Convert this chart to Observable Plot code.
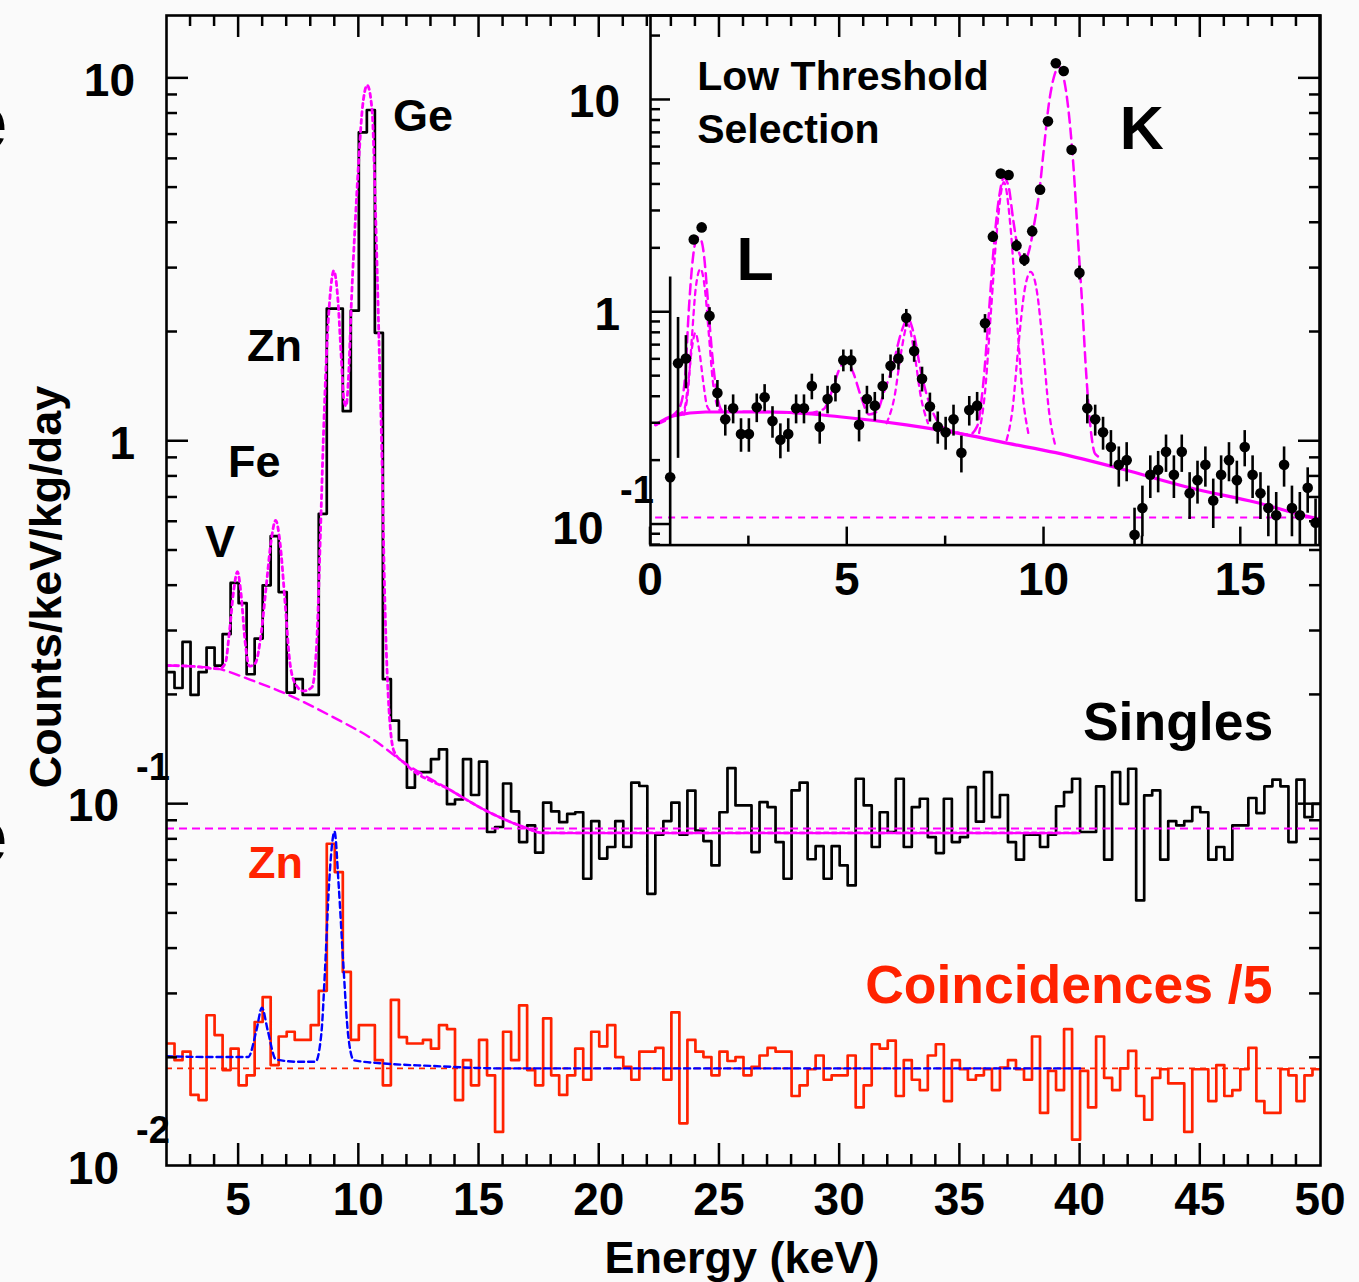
<!DOCTYPE html>
<html>
<head>
<meta charset="utf-8">
<script src="https://cdn.jsdelivr.net/npm/d3@7"></script>
<script src="https://cdn.jsdelivr.net/npm/@observablehq/plot@0.6"></script>
<style>
  html, body { margin: 0; padding: 0; background: #fafafa; }
  #wrap { position: relative; width: 1359px; height: 1282px; overflow: hidden; background: #fafafa; }
  #wrap svg { position: absolute; }
</style>
</head>
<body>
<div id="wrap"></div>
<script>
const FONT = '"Liberation Sans", Arial, Helvetica, sans-serif';

// ---------------- main spectrum (bins of 1/3 keV from 2 to 50 keV) ----------------
const binStart = 2, binWidth = 1 / 3, binEnd = 50;

const singles = [
0.231,0.209,0.28,0.20,0.231,0.27,0.241,0.294,0.407,0.358,
0.228,0.286,0.401,0.548,0.384,0.203,0.221,0.20,0.20,0.631,
2.32,2.32,1.21,2.29,7.10,8.18,1.99,0.221,0.170,0.150,
0.111,0.1225,0.1225,0.133,0.1415,0.100,0.103,0.133,0.106,0.131,
0.0838,0.0865,0.114,0.0955,0.0786,0.0874,0.0735,0.101,0.0955,0.0892,
0.094,0.095,0.0623,0.0898,0.0708,0.0762,0.0898,0.0762,0.1146,0.1122,
0.0566,0.0824,0.0898,0.101,0.0824,0.109,0.0846,0.0791,0.0678,0.095,
0.1257,0.0992,0.0992,0.0738,0.1013,0.0982,0.0786,0.0623,0.1091,0.1146,
0.0705,0.0766,0.0623,0.0766,0.0678,0.0597,0.1175,0.0992,0.0762,0.095,
0.0838,0.1175,0.0762,0.0982,0.1035,0.0811,0.0733,0.1035,0.0786,0.0811,
0.1114,0.0895,0.1225,0.0921,0.106,0.0786,0.0703,0.0824,0.0824,0.0762,
0.0824,0.0987,0.108,0.1175,0.0838,0.0838,0.112,0.0703,0.1225,0.1002,
0.1252,0.0543,0.1057,0.1091,0.0703,0.0898,0.0874,0.0898,0.0982,0.095,
0.0703,0.0762,0.0703,0.0874,0.0874,0.104,0.0945,0.112,0.1168,0.112,
0.0786,0.1168,0.0921,0.1002];

const coincidences = [
0.0219,0.0197,0.0208,0.0158,0.0153,0.0262,0.0231,0.0185,0.0212,0.0168,
0.0179,0.0251,0.0294,0.0191,0.0229,0.0236,0.0224,0.0224,0.0246,0.0306,
0.0778,0.065,0.0345,0.0224,0.0246,0.0246,0.0197,0.0168,0.0289,0.0228,
0.0219,0.0219,0.0224,0.0212,0.0246,0.024,0.0153,0.0197,0.0168,0.0224,
0.0179,0.0125,0.0236,0.0197,0.0279,0.0185,0.0168,0.0257,0.0179,0.0158,
0.0179,0.0212,0.0174,0.0236,0.0215,0.0246,0.0201,0.0189,0.0174,0.0208,
0.0208,0.0213,0.0174,0.0267,0.0132,0.0224,0.0208,0.0201,0.0179,0.0208,
0.0196,0.0201,0.0179,0.0189,0.0203,0.0213,0.0208,0.0208,0.0157,0.0168,
0.0186,0.0203,0.0174,0.0179,0.0179,0.0203,0.0146,0.0168,0.0218,0.0212,
0.0223,0.0157,0.0197,0.0174,0.0163,0.0203,0.0218,0.0152,0.0197,0.0186,
0.0174,0.0179,0.0186,0.0163,0.0188,0.0197,0.0186,0.0174,0.0229,0.0141,
0.0184,0.0163,0.0240,0.0119,0.0184,0.0146,0.0229,0.0176,0.0163,0.0187,
0.0209,0.0157,0.0135,0.0176,0.0186,0.0170,0.0170,0.0125,0.0186,0.0186,
0.0152,0.0191,0.0157,0.0163,0.0186,0.0213,0.0152,0.0141,0.0141,0.0186,
0.0179,0.0152,0.0179,0.0186];

// fit curves: [energy keV, value]
const singlesFit = [
[2.0,0.241],[3.0,0.240],[4.2,0.236],[4.45,0.245],[4.62,0.30],[4.8,0.39],[4.95,0.437],[5.1,0.38],
[5.27,0.28],[5.45,0.24],[5.7,0.245],[5.95,0.30],[6.15,0.40],[6.35,0.53],[6.54,0.605],[6.73,0.52],
[6.93,0.36],[7.12,0.25],[7.35,0.215],[7.7,0.205],[8.05,0.21],[8.25,0.28],[8.4,0.55],[8.52,1.0],
[8.65,1.7],[8.8,2.5],[8.96,2.95],[9.12,2.5],[9.27,1.7],[9.38,1.3],[9.47,1.25],[9.57,1.5],[9.7,2.5],
[9.85,4.0],[10.0,6.0],[10.15,8.3],[10.35,9.57],[10.55,8.18],[10.69,4.39],[10.83,1.99],[10.97,0.85],
[11.06,0.42],[11.22,0.2],[11.46,0.14],[11.94,0.129],[13.84,0.109],[15.27,0.0961],[16.86,0.0865],
[17.66,0.0833],[40,0.0833]];
const singlesBackground = [
[2.0,0.241],[3.0,0.240],[4.15,0.236],[5.5,0.22],[7.0,0.201],[8.91,0.174],[10.66,0.1497],[11.94,0.1294],
[13.84,0.109],[15.27,0.0961],[16.86,0.0865],[17.66,0.0833],[20,0.0832],[40,0.0832]];
const singlesFlat = [0.0857];
const coincFit = [
[2.0,0.0202],[4.0,0.0201],[5.4,0.0201],[5.74,0.0238],[5.97,0.0275],[6.21,0.0238],[6.55,0.0198],
[7.5,0.0195],[8.2,0.0195],[8.44,0.0233],[8.6,0.0357],[8.76,0.060],[8.99,0.084],[9.16,0.060],
[9.36,0.0357],[9.55,0.0233],[9.79,0.0197],[11,0.0193],[13,0.019],[16,0.0187],[40,0.0187]];
const coincFlat = [0.0187];

// ---------------- inset: low threshold selection (points every 0.2 keV from 0.5 keV) ----------------
const insetStart = 0.5, insetStep = 0.2;
const insetValues = [
0.167,0.575,0.606,2.2,2.51,0.961,0.417,0.313,0.353,0.267,
0.267,0.357,0.398,0.307,0.251,0.267,0.353,0.353,0.449,0.289,
0.390,0.440,0.594,0.594,0.295,0.39,0.363,0.449,0.559,0.606,
0.941,0.656,0.486,0.36,0.289,0.272,0.313,0.218,0.346,0.363,
0.887,2.27,4.5,4.43,2.06,1.765,2.41,3.78,7.93,14.9,
13.7,5.83,1.535,0.353,0.313,0.272,0.232,0.191,0.201,0.0894,
0.1197,0.1716,0.181,0.22,0.1716,0.22,0.1405,0.1618,0.191,0.1297,
0.1716,0.201,0.1618,0.232,0.1716,0.1405,0.1197,0.1105,0.191,0.1197,
0.1105,0.149,0.102];
const insetErrors = [
1.3,0.37,0.17,0.1,0.1,0.09,0.06,0.052,0.055,0.048,
0.048,0.055,0.058,0.052,0.047,0.048,0.055,0.055,0.062,0.05,
0.058,0.062,0.07,0.07,0.05,0.058,0.056,0.062,0.07,0.072,
0.09,0.075,0.065,0.056,0.05,0.048,0.052,0.043,0.055,0.056,
0.088,0.14,0.2,0.2,0.13,0.12,0.14,0.18,0.26,0.36,
0.34,0.22,0.115,0.055,0.052,0.048,0.045,0.041,0.042,0.03,
0.032,0.039,0.04,0.044,0.039,0.044,0.035,0.037,0.041,0.034,
0.039,0.042,0.037,0.045,0.039,0.035,0.032,0.031,0.041,0.032,
0.031,0.036,0.03];
const insetBackground = [
[0.13,0.295],[0.6,0.326],[1.4,0.339],[3.1,0.339],[4.8,0.322],[6.5,0.295],[8.2,0.261],[8.9,0.245],
[10.3,0.218],[12.0,0.182],[13.7,0.149],[15.4,0.127],[16.8,0.108],[17,0.106]];
const insetFlat = [0.108];
const insetTotalFit = [
[0.13,0.295],[0.5,0.32],[0.75,0.36],[0.88,0.5],[0.97,1.0],[1.05,1.6],[1.12,2.05],[1.2,2.25],[1.28,2.2],
[1.36,1.85],[1.44,1.25],[1.52,0.8],[1.6,0.55],[1.7,0.4],[1.82,0.345],[2.0,0.34],[3.0,0.339],[4.0,0.335],
[4.4,0.35],[4.6,0.42],[4.8,0.54],[4.97,0.59],[5.15,0.52],[5.35,0.4],[5.55,0.33],[5.75,0.34],[5.95,0.43],
[6.15,0.55],[6.35,0.78],[6.54,0.93],[6.7,0.78],[6.85,0.55],[7.0,0.42],[7.2,0.33],[7.4,0.29],[7.7,0.275],
[8.1,0.265],[8.3,0.29],[8.45,0.45],[8.6,1.0],[8.72,2.0],[8.85,3.4],[8.98,4.3],[9.1,3.9],[9.22,2.7],
[9.35,1.95],[9.5,1.75],[9.62,1.95],[9.75,2.6],[9.88,3.7],[10.0,6.0],[10.12,9.5],[10.25,12.8],[10.38,14.3],
[10.5,12.7],[10.62,9.0],[10.75,4.8],[10.87,2.1],[10.97,1.09],[11.07,0.52],[11.17,0.3],[11.3,0.215],[11.5,0.205]];
const insetComponents = [
  [[0.7,0.33],[0.85,0.345],[0.95,0.45],[1.04,0.65],[1.14,0.80],[1.24,0.66],[1.34,0.47],[1.44,0.36],[1.55,0.34]],
  [[0.85,0.33],[0.95,0.42],[1.05,0.75],[1.15,1.3],[1.27,1.6],[1.38,1.3],[1.48,0.8],[1.58,0.48],[1.7,0.36],[1.8,0.34]],
  [[6.0,0.30],[6.2,0.40],[6.37,0.65],[6.54,0.88],[6.7,0.65],[6.87,0.40],[7.05,0.30]],
  [[8.35,0.27],[8.5,0.42],[8.65,1.0],[8.8,2.4],[8.98,4.1],[9.15,2.5],[9.3,1.0],[9.45,0.42],[9.6,0.27]],
  [[9.05,0.25],[9.2,0.35],[9.35,0.7],[9.5,1.25],[9.66,1.55],[9.82,1.25],[9.97,0.7],[10.12,0.35],[10.3,0.23]]
];

// ---------------- tables for the library ----------------
const histTable = (vals) => {
  const t = vals.map((v, i) => ({e: binStart + i * binWidth, v}));
  t.push({e: binEnd, v: vals[vals.length - 1]});
  return t;
};
const singlesTable = histTable(singles);
const coincTable = histTable(coincidences);
const insetTable = insetValues.map((v, i) => ({e: insetStart + i * insetStep, v, s: insetErrors[i]}));

const MAGENTA = "#ff00ff", RED = "#ff2200", BLUE = "#0000ff";
const px = d => d[0], py = d => d[1];

const wrap = document.getElementById("wrap");

// ---------------- main plot ----------------
const main = Plot.plot({
  width: 1359, height: 1282,
  marginLeft: 166, marginRight: 39, marginTop: 15, marginBottom: 117,
  style: {background: "transparent"},
  x: {type: "linear", domain: [2, 50], axis: null},
  y: {type: "log", domain: [0.0101, 14.9], axis: null},
  marks: [
    Plot.line(singlesTable, {x: "e", y: "v", curve: "step-after", stroke: "black", strokeWidth: 2.7, clip: true}),
    Plot.line(coincTable, {x: "e", y: "v", curve: "step-after", stroke: RED, strokeWidth: 2.7, clip: true}),
    Plot.ruleY(singlesFlat, {y: d => d, x1: 2, x2: 50, stroke: MAGENTA, strokeWidth: 2.2, strokeDasharray: "8,5"}),
    Plot.line(singlesBackground, {x: px, y: py, curve: "monotone-x", stroke: MAGENTA, strokeWidth: 2.4, strokeDasharray: "10,6", clip: true}),
    Plot.line(singlesFit, {x: px, y: py, curve: "monotone-x", stroke: MAGENTA, strokeWidth: 2.8, strokeDasharray: "4,4", clip: true}),
    Plot.ruleY(coincFlat, {y: d => d, x1: 2, x2: 50, stroke: RED, strokeWidth: 1.6, strokeDasharray: "6,5"}),
    Plot.line(coincFit, {x: px, y: py, curve: "monotone-x", stroke: BLUE, strokeWidth: 2.4, strokeDasharray: "6,4", clip: true}),
    Plot.frame({stroke: "black", strokeWidth: 2.6})
  ]
});
main.style.left = "0px"; main.style.top = "0px";
wrap.appendChild(main);

// ---------------- inset plot ----------------
const inset = Plot.plot({
  width: 819, height: 610,
  marginLeft: 110, marginRight: 40, marginTop: 15, marginBottom: 65.4,
  style: {background: "transparent"},
  x: {type: "linear", domain: [0, 17], axis: null},
  y: {type: "log", domain: [0.08, 25], axis: null},
  marks: [
    Plot.ruleY(insetFlat, {y: d => d, x1: 0.13, x2: 17, stroke: MAGENTA, strokeWidth: 2, strokeDasharray: "7,6"}),
    Plot.line(insetBackground, {x: px, y: py, curve: "monotone-x", stroke: MAGENTA, strokeWidth: 3.2, clip: true}),
    ...insetComponents.map(c => Plot.line(c, {x: px, y: py, curve: "monotone-x", stroke: MAGENTA, strokeWidth: 2.3, strokeDasharray: "5,5", clip: true})),
    Plot.line(insetTotalFit, {x: px, y: py, curve: "monotone-x", stroke: MAGENTA, strokeWidth: 2.5, strokeDasharray: "10,6", clip: true}),
    Plot.ruleX(insetTable, {x: "e", y1: d => Math.max(d.v - d.s, 0.01), y2: d => d.v + d.s, stroke: "black", strokeWidth: 2.6, clip: true}),
    Plot.dot(insetTable, {x: "e", y: "v", r: 5.3, fill: "black", stroke: "none", clip: true}),
    Plot.frame({stroke: "black", strokeWidth: 2.6})
  ]
});
inset.style.left = "540px"; inset.style.top = "0px";
wrap.appendChild(inset);

// ---------------- helpers for ROOT-style ticks and labels ----------------
function textAt(svg, x, y, txt, {anchor = "start", size = 46, fill = "black"} = {}) {
  svg.append("text").attr("x", x).attr("y", y).attr("text-anchor", anchor)
    .attr("font-family", FONT).attr("font-weight", "bold").attr("font-size", size)
    .attr("fill", fill).text(txt);
}
function logTicks(lo, hi) {
  const out = [];
  for (let p = -3; p <= 3; p++) for (let k = 1; k <= 9; k++) {
    const v = k * Math.pow(10, p);
    if (v >= lo * 0.999 && v <= hi * 1.001) out.push({v, major: k === 1});
  }
  return out;
}

// main ticks
{
  const sx = main.scale("x"), sy = main.scale("y");
  const svg = d3.select(main);
  const [xl, xr] = sx.range, [yb, yt] = sy.range;
  const g = svg.append("g").attr("stroke", "black").attr("stroke-width", 2.5);
  for (let v = 3; v < 50; v++) {
    const len = v % 5 === 0 ? 22 : 11, X = sx.apply(v);
    g.append("line").attr("x1", X).attr("x2", X).attr("y1", yb).attr("y2", yb - len);
    g.append("line").attr("x1", X).attr("x2", X).attr("y1", yt).attr("y2", yt + len);
  }
  for (const t of logTicks(0.0101, 14.9)) {
    const len = t.major ? 22 : 11, Y = sy.apply(t.v);
    g.append("line").attr("x1", xl).attr("x2", xl + len).attr("y1", Y).attr("y2", Y);
    g.append("line").attr("x1", xr).attr("x2", xr - len).attr("y1", Y).attr("y2", Y);
  }
  for (let v = 5; v <= 50; v += 5) textAt(svg, sx.apply(v), 1215, String(v), {anchor: "middle"});
  const yl = [{v: 10, b: "10"}, {v: 1, b: "1"}, {v: 0.1, b: "10", e: "-1"}, {v: 0.01, b: "10", e: "-2"}];
  for (const l of yl) {
    const Y = sy.apply(l.v);
    if (!l.e) textAt(svg, 135, Y + 18.6, l.b, {anchor: "end"});
    else {
      textAt(svg, 119, Y + 17, l.b, {anchor: "end"});
      textAt(svg, 136, Y - 23.5, l.e, {size: 38});
    }
  }
  // axis titles
  svg.append("text").attr("transform", `translate(61,587) rotate(-90)`).attr("text-anchor", "middle")
    .attr("font-family", FONT).attr("font-weight", "bold").attr("font-size", 45).attr("fill", "black")
    .text("Counts/keV/kg/day");
  textAt(svg, (xl + xr) / 2 - 1, 1273, "Energy (keV)", {anchor: "middle", size: 45});
  // annotations (positions in data units: keV, counts/keV/kg/day)
  const notes = [
    {t: "Ge", x: 11.44, y: 7.14, size: 45},
    {t: "Zn", x: 5.37, y: 1.66, size: 45},
    {t: "Fe", x: 4.58, y: 0.795, size: 45},
    {t: "V", x: 3.62, y: 0.478, size: 45},
    {t: "Singles", x: 40.14, y: 0.1498, size: 53.5},
    {t: "Zn", x: 5.41, y: 0.0624, size: 45, fill: RED},
    {t: "Coincidences /5", x: 31.08, y: 0.02823, size: 53.5, fill: RED},
    {t: "e", x: -6.45, y: 6.37, size: 80},
    {t: "e", x: -6.45, y: 0.0686, size: 80}
  ];
  for (const n of notes) textAt(svg, sx.apply(n.x), sy.apply(n.y), n.t, {size: n.size, fill: n.fill || "black"});
}

// inset ticks
{
  const sx = inset.scale("x"), sy = inset.scale("y");
  const svg = d3.select(inset);
  const [xl, xr] = sx.range, [yb, yt] = sy.range;
  const g = svg.append("g").attr("stroke", "black").attr("stroke-width", 2.5);
  for (let v = 0; v <= 17; v += 2.5) {
    const len = v % 5 === 0 ? 18 : 9, X = sx.apply(v);
    g.append("line").attr("x1", X).attr("x2", X).attr("y1", yb).attr("y2", yb - len);
  }
  for (const t of logTicks(0.08, 25)) {
    const len = t.major ? 20 : 10, Y = sy.apply(t.v);
    g.append("line").attr("x1", xl).attr("x2", xl + len).attr("y1", Y).attr("y2", Y);
  }
  for (let v = 0; v <= 15; v += 5) textAt(svg, sx.apply(v), 594.6, String(v), {anchor: "middle"});
  const yl = [{v: 10, b: "10"}, {v: 1, b: "1"}, {v: 0.1, b: "10", e: "-1"}];
  for (const l of yl) {
    const Y = sy.apply(l.v);
    if (!l.e) textAt(svg, xl - 30, Y + 18, l.b, {anchor: "end"});
    else {
      textAt(svg, xl - 46.5, Y + 19.5, l.b, {anchor: "end"});
      textAt(svg, xl - 30, Y - 21.5, l.e, {size: 38});
    }
  }
  const notes = [
    {t: "Low Threshold", x: 1.2, y: 11.14, size: 41},
    {t: "Selection", x: 1.2, y: 6.24, size: 41},
    {t: "L", x: 2.2, y: 1.41, size: 61},
    {t: "K", x: 11.94, y: 5.84, size: 61}
  ];
  for (const n of notes) textAt(svg, sx.apply(n.x), sy.apply(n.y), n.t, {size: n.size});
}
</script>
</body>
</html>
